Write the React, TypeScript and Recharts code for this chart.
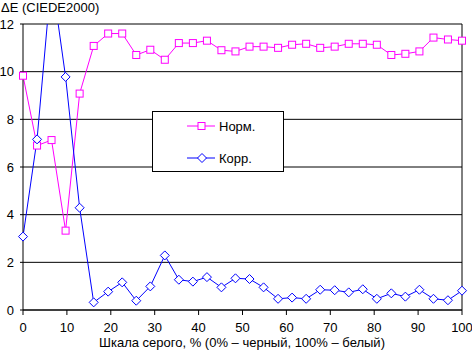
import React from 'react';
import { LineChart, Line, XAxis, YAxis, CartesianGrid, ReferenceLine, Legend } from 'recharts';

const grayPercent = [0, 3.2, 6.5, 9.7, 12.9, 16.1, 19.4, 22.6, 25.8, 29.0, 32.3, 35.5, 38.7, 41.9, 45.2, 48.4, 51.6, 54.8, 58.1, 61.3, 64.5, 67.7, 71.0, 74.2, 77.4, 80.6, 83.9, 87.1, 90.3, 93.5, 96.8, 100];
const normValues = [9.83, 6.9, 7.13, 3.33, 9.08, 11.08, 11.6, 11.6, 10.7, 10.92, 10.5, 11.2, 11.2, 11.3, 10.9, 10.85, 11.05, 11.05, 11.0, 11.13, 11.17, 11.0, 11.05, 11.17, 11.17, 11.13, 10.7, 10.75, 10.85, 11.43, 11.35, 11.3];
const korrValues = [3.08, 7.16, 14.0, 9.78, 4.29, 0.32, 0.77, 1.16, 0.39, 0.99, 2.29, 1.27, 1.19, 1.38, 0.95, 1.33, 1.30, 0.95, 0.47, 0.52, 0.47, 0.85, 0.83, 0.74, 0.87, 0.47, 0.70, 0.56, 0.85, 0.47, 0.41, 0.81];
const xTicks = [0, 10, 20, 30, 40, 50, 60, 70, 80, 90, 100];
const yTicks = [0, 2, 4, 6, 8, 10, 12];
const seriesNames = ['Норм.', 'Корр.'];
const yTitle = 'ΔE (CIEDE2000)';
const xTitle = 'Шкала серого, % (0% – черный, 100% – белый)';

const data = grayPercent.map((x, i) => ({ x, norm: normValues[i], korr: korrValues[i] }));

const MAGENTA = '#FF00FF';
const BLUE = '#0000FF';
const FONT = '"Liberation Sans", Arial, sans-serif';

const Square = (props: any) => {
  const { cx, cy, key } = props;
  if (cx == null || cy == null) return <g key={key} />;
  return <rect key={key} x={cx - 3.5} y={cy - 3.5} width={7} height={7} fill="#fff" stroke={MAGENTA} strokeWidth={1} />;
};
const Diamond = (props: any) => {
  const { cx, cy, key } = props;
  if (cx == null || cy == null) return <g key={key} />;
  const r = 4.5;
  return <polygon key={key} points={`${cx},${cy - r} ${cx + r},${cy} ${cx},${cy + r} ${cx - r},${cy}`} fill="#fff" stroke={BLUE} strokeWidth={1} />;
};

const LegendBox = () => (
  <div style={{ width: 130, height: 59, border: '1px solid #000', background: '#fff', fontFamily: FONT, fontSize: 13, position: 'relative' }}>
    <svg width={130} height={59} style={{ position: 'absolute', left: 0, top: 0 }}>
      <line x1={34} x2={62} y1={14} y2={14} stroke={MAGENTA} />
      <rect x={45} y={10.5} width={7} height={7} fill="#fff" stroke={MAGENTA} />
      <text x={66} y={18.5} fontSize={13} fontFamily={FONT} fill="#000">{seriesNames[0]}</text>
      <line x1={34} x2={62} y1={46} y2={46} stroke={BLUE} />
      <polygon points="49,41.5 53.5,46 49,50.5 44.5,46" fill="#fff" stroke={BLUE} />
      <text x={66} y={50.5} fontSize={13} fontFamily={FONT} fill="#000">{seriesNames[1]}</text>
    </svg>
  </div>
);

export default function App() {
  return (
    <div style={{ position: 'absolute', left: 0, top: 0, width: 472, height: 353, background: '#fff', fontFamily: FONT }}>
      <LineChart width={472} height={353} data={data} margin={{ top: 24, right: 10, bottom: 0, left: 0 }}>
        <CartesianGrid vertical={false} stroke="#000" strokeWidth={1} strokeDasharray="" />
        <XAxis
          dataKey="x"
          type="number"
          domain={[0, 100]}
          ticks={xTicks}
          interval={0}
          height={43}
          tickSize={5}
          tickMargin={8}
          axisLine={{ stroke: '#000' }}
          tickLine={{ stroke: '#000' }}
          tick={{ fill: '#000', fontSize: 13, fontFamily: FONT }}
          label={(p: any) => (
            <text x={242} y={347} textAnchor="middle" fontSize={13} fontFamily={FONT} fill="#000">{xTitle}</text>
          )}
        />
        <YAxis
          type="number"
          domain={[0, 12]}
          ticks={yTicks}
          interval={0}
          allowDataOverflow
          width={23}
          tickSize={3}
          tickMargin={6}
          axisLine={{ stroke: '#000' }}
          tickLine={{ stroke: '#000' }}
          tick={{ fill: '#000', fontSize: 13, fontFamily: FONT }}
          label={(p: any) => (
            <text x={1} y={12} textAnchor="start" fontSize={13} fontFamily={FONT} fill="#000">{yTitle}</text>
          )}
        />
        <ReferenceLine x={100} stroke="#000" strokeWidth={1} ifOverflow="extendDomain" />
        <Legend
          layout="vertical"
          align="center"
          verticalAlign="middle"
          content={() => <LegendBox />}
          wrapperStyle={{ position: 'absolute', left: 152, top: 111, width: 132, height: 61 }}
        />
        <Line type="linear" dataKey="norm" name={seriesNames[0]} stroke={MAGENTA} strokeWidth={1} dot={Square} activeDot={false} isAnimationActive={false} />
        <Line type="linear" dataKey="korr" name={seriesNames[1]} stroke={BLUE} strokeWidth={1} dot={Diamond} activeDot={false} isAnimationActive={false} />
      </LineChart>
    </div>
  );
}
